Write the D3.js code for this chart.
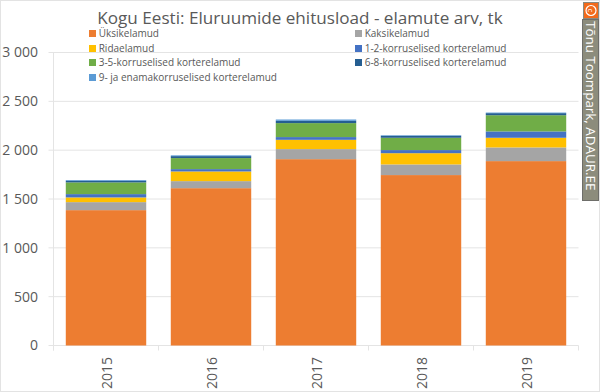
<!DOCTYPE html>
<html>
<head>
<meta charset="utf-8">
<script src="https://cdn.jsdelivr.net/npm/d3@7"></script>
<style>
  html, body { margin: 0; padding: 0; background: #fff; }
  svg { display: block; }
  text { font-family: "Open Sans", "Noto Sans", sans-serif; }
</style>
</head>
<body>
<div id="chart"></div>
<script>
// values, tk
const years = ["2015", "2016", "2017", "2018", "2019"];
const yTicks = [0, 500, 1000, 1500, 2000, 2500, 3000];

const yksikelamud = [1386, 1611, 1908, 1745, 1888];
const kaksikelamud = [82, 72, 103, 109, 140];
const ridaelamud = [48, 99, 95, 115, 99];
const korrus12 = [34, 24, 28, 32, 65];
const korrus35 = [120, 113, 143, 126, 166];
const korrus68 = [16, 20, 23, 20, 21];
const korrus9 = [8, 8, 14, 6, 6];

const seriesNames = [
    "Üksikelamud", "Kaksikelamud", "Ridaelamud", "1-2-korruselised korterelamud",
    "3-5-korruselised korterelamud", "6-8-korruselised korterelamud", "9- ja enamakorruselised korterelamud"
];
const seriesValues = [yksikelamud, kaksikelamud, ridaelamud, korrus12, korrus35, korrus68, korrus9];
const colors = ["#ed7d31", "#a5a5a5", "#ffc000", "#4472c4", "#70ad47", "#255e91", "#5b9bd5"];

const svgWidth = 600;
const svgHeight = 392;
let margin = { top: 52.5, right: 21.5, bottom: 46.5, left: 53.5 };
let width = svgWidth - margin.left - margin.right;
let height = svgHeight - margin.top - margin.bottom;

let svg = d3.select("#chart").append("svg")
    .attr("width", svgWidth)
    .attr("height", svgHeight);

// chart area border
svg.append("rect")
    .attr("x", 0.5).attr("y", 0.5)
    .attr("width", svgWidth - 1).attr("height", svgHeight - 1)
    .attr("fill", "#fff").attr("stroke", "#e3e3e3");

let xScale = d3.scaleBand().domain(years).range([0, width]).paddingInner(0.234).paddingOuter(0.117);
let yScale = d3.scaleLinear().domain([0, 3000]).range([height, 0]);

let chartGroup = svg.append("g").attr("transform", `translate(${margin.left}, ${margin.top})`);

// gridlines
chartGroup.append("g").selectAll("line").data(yTicks).join("line")
    .attr("x1", -5).attr("x2", width)
    .attr("y1", d => yScale(d)).attr("y2", d => yScale(d))
    .attr("stroke", "#e4e4e4").attr("stroke-width", 1);

// y axis
let leftAxis = d3.axisLeft(yScale).tickValues(yTicks).tickSize(0).tickPadding(15.5)
    .tickFormat(d => d3.format(",")(d).replace(",", " "));
let yAxis = chartGroup.append("g").call(leftAxis);
yAxis.select(".domain").attr("stroke", "#e4e4e4").attr("d", `M0,0V${height + 5}`);
yAxis.selectAll("text").attr("font-size", 14).attr("fill", "#595959").attr("font-family", '"Open Sans", sans-serif');

// x axis: ticks sit between the categories
let xAxis = chartGroup.append("g").attr("transform", `translate(0, ${height})`);
xAxis.selectAll("line").data(d3.range(years.length + 1)).join("line")
    .attr("x1", i => i * xScale.step()).attr("x2", i => i * xScale.step())
    .attr("y1", 0).attr("y2", 5).attr("stroke", "#e4e4e4");
xAxis.selectAll("text").data(years).join("text")
    .attr("transform", d => `translate(${xScale(d) + xScale.bandwidth() / 2 + 5.5}, 43.5) rotate(-90)`)
    .attr("font-size", 14).attr("fill", "#595959")
    .text(d => d);

// stacked bars
let stackData = years.map((y, i) => {
    let row = { year: y };
    seriesNames.forEach((s, j) => { row[s] = seriesValues[j][i]; });
    return row;
});
let stacked = d3.stack().keys(seriesNames)(stackData);

chartGroup.selectAll(".series").data(stacked).join("g")
    .attr("class", "series")
    .attr("fill", (d, i) => colors[i])
    .selectAll("rect").data(d => d).join("rect")
    .attr("x", d => xScale(d.data.year))
    .attr("width", xScale.bandwidth())
    .attr("y", d => yScale(d[1]))
    .attr("height", d => yScale(d[0]) - yScale(d[1]));

// title
svg.append("text")
    .attr("x", 300).attr("y", 24)
    .attr("text-anchor", "middle")
    .attr("font-size", 17.1).attr("fill", "#595959")
    .text("Kogu Eesti: Eluruumide ehitusload - elamute arv, tk");

// legend, two columns
const legendX = [89, 355];
const legendY = [33, 48, 62, 77];
let legend = svg.append("g");
seriesNames.forEach((s, i) => {
    let lx = legendX[i % 2];
    let ly = legendY[Math.floor(i / 2)];
    legend.append("rect").attr("x", lx).attr("y", ly - 3).attr("width", 7).attr("height", 7).attr("fill", colors[i]);
    legend.append("text").attr("x", lx + 9.7).attr("y", ly + 4)
        .attr("font-size", 10).attr("fill", "#595959").text(s);
});

// copyright strip on the right edge
svg.append("rect").attr("x", 583.5).attr("y", 2.5).attr("width", 15).attr("height", 16).attr("fill", "#f26a1b").attr("stroke", "#8a8a80");
svg.append("rect").attr("x", 582.5).attr("y", 19.5).attr("width", 16).attr("height", 181).attr("fill", "#8c8c7c").attr("stroke", "#6e6e6a");
svg.append("circle").attr("cx", 591).attr("cy", 10.5).attr("r", 5).attr("fill", "none").attr("stroke", "#fff").attr("stroke-width", 1.2);
svg.append("text")
    .attr("transform", "translate(591, 10.5) rotate(90)")
    .attr("text-anchor", "middle").attr("dominant-baseline", "central")
    .attr("font-size", 8).attr("fill", "#fff").text("c");
svg.append("text")
    .attr("transform", "translate(590.5, 21) rotate(90)")
    .attr("dominant-baseline", "central")
    .attr("font-family", '"DejaVu Sans", sans-serif')
    .attr("font-size", 13.4).attr("fill", "#fff").text("Tõnu Toompark, ADAUR.EE");
</script>
</body>
</html>
